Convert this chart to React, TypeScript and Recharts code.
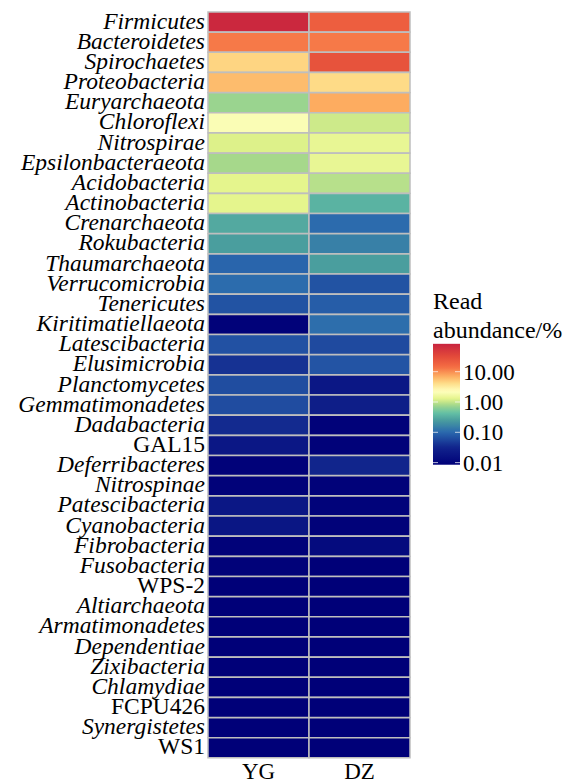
import React from 'react'
import { BarChart, Bar, XAxis, YAxis, Cell } from 'recharts'

// ── Data ──────────────────────────────────────────────────────────────────────

const PHYLA = [
  'Firmicutes', 'Bacteroidetes', 'Spirochaetes', 'Proteobacteria', 'Euryarchaeota',
  'Chloroflexi', 'Nitrospirae', 'Epsilonbacteraeota', 'Acidobacteria', 'Actinobacteria',
  'Crenarchaeota', 'Rokubacteria', 'Thaumarchaeota', 'Verrucomicrobia', 'Tenericutes',
  'Kiritimatiellaeota', 'Latescibacteria', 'Elusimicrobia', 'Planctomycetes', 'Gemmatimonadetes',
  'Dadabacteria', 'GAL15', 'Deferribacteres', 'Nitrospinae', 'Patescibacteria',
  'Cyanobacteria', 'Fibrobacteria', 'Fusobacteria', 'WPS-2', 'Altiarchaeota',
  'Armatimonadetes', 'Dependentiae', 'Zixibacteria', 'Chlamydiae', 'FCPU426',
  'Synergistetes', 'WS1',
]

// read abundance (%) per phylum
const YG = [
  75, 12.5, 4.5, 6, 0.72,
  2, 1.2, 0.8, 1.3, 1.3,
  0.3, 0.25, 0.095, 0.107, 0.07,
  0.009, 0.068, 0.04, 0.063, 0.062,
  0.035, 0.02, 0.009, 0.009, 0.02,
  0.019, 0.009, 0.009, 0.008, 0.008,
  0.008, 0.008, 0.008, 0.008, 0.008,
  0.008, 0.008,
]

const DZ = [
  20, 12.5, 26, 4.2, 7.2,
  1.07, 1.4, 1.4, 0.91, 0.35,
  0.105, 0.15, 0.25, 0.07, 0.083,
  0.11, 0.06, 0.071, 0.02, 0.025,
  0.009, 0.009, 0.032, 0.009, 0.0095,
  0.009, 0.0125, 0.008, 0.008, 0.008,
  0.008, 0.008, 0.008, 0.008, 0.008,
  0.008, 0.008,
]

const GROUPS = ['YG', 'DZ']
const LEGEND_TICKS = [10, 1, 0.1, 0.01]
const NON_ITALIC = ['GAL15', 'WPS-2', 'FCPU426', 'WS1']

// ── Colour scale (log10 of abundance) ────────────────────────────────────────

const LOG_MIN = -2.07
const LOG_MAX = 1.92

const STOPS: [number, string][] = [
  [-2.07, '#000078'],
  [-1.5, '#11248C'],
  [-1.0, '#2A68AE'],
  [-0.6, '#4A9E9E'],
  [-0.35, '#66C2A5'],
  [-0.1, '#A5D88B'],
  [0.1, '#E3F48A'],
  [0.35, '#FFFFBF'],
  [0.6, '#FEE08B'],
  [0.85, '#FDAE61'],
  [1.15, '#F46D43'],
  [1.5, '#E34A3A'],
  [1.92, '#C8243F'],
]

const hex = (c: string) => [1, 3, 5].map((i) => parseInt(c.slice(i, i + 2), 16))

function colorAt(t: number) {
  const v = Math.max(LOG_MIN, Math.min(LOG_MAX, t))
  for (let i = 0; i < STOPS.length - 1; i++) {
    const [a, ca] = STOPS[i]
    const [b, cb] = STOPS[i + 1]
    if (v >= a && v <= b) {
      const f = (v - a) / (b - a)
      const A = hex(ca)
      const B = hex(cb)
      const m = A.map((x, k) => Math.round(x + (B[k] - x) * f))
      return `rgb(${m[0]},${m[1]},${m[2]})`
    }
  }
  return STOPS[STOPS.length - 1][1]
}

const colorOf = (v: number) => colorAt(Math.log10(v))

const data = PHYLA.map((name, i) => ({ name, yg: YG[i], dz: DZ[i], w1: 1, w2: 1 }))

const FONT = "'Liberation Serif', 'Times New Roman', serif"

// ─────────────────────────────────────────────────────────────────────────────

function PhylumTick(props: any) {
  const { x, y, payload } = props
  const italic = !NON_ITALIC.includes(payload.value)
  return (
    <text
      x={x}
      y={y}
      dy={6.5}
      textAnchor="end"
      fontFamily={FONT}
      fontSize={23.5}
      fontStyle={italic ? 'italic' : 'normal'}
      fill="#000"
    >
      {payload.value}
    </text>
  )
}

function GroupTick(props: any) {
  const { x, y, payload } = props
  return (
    <text x={x} y={y} dy={13} textAnchor="middle" fontFamily={FONT} fontSize={23} fill="#000">
      {GROUPS[Math.floor(payload.value)]}
    </text>
  )
}

function ColorLegend() {
  const yOf = (v: number) => 402 - 30.3 * Math.log10(v)
  const top = yOf(Math.pow(10, LOG_MAX))
  const bottom = yOf(Math.pow(10, LOG_MIN))
  const steps = 40
  return (
    <svg width={571} height={783} style={{ position: 'absolute', left: 0, top: 0, pointerEvents: 'none' }}>
      <defs>
        <linearGradient id="abund" x1="0" y1="0" x2="0" y2="1">
          {Array.from({ length: steps + 1 }, (_, i) => {
            const t = LOG_MAX - ((LOG_MAX - LOG_MIN) * i) / steps
            return <stop key={i} offset={`${(i / steps) * 100}%`} stopColor={colorAt(t)} />
          })}
        </linearGradient>
      </defs>
      <text x={433} y={309} fontFamily={FONT} fontSize={24} fill="#000">Read</text>
      <text x={433} y={338} fontFamily={FONT} fontSize={24} fill="#000">abundance/%</text>
      <rect x={433} y={top} width={27} height={bottom - top} fill="url(#abund)" />
      {LEGEND_TICKS.map((v) => (
        <g key={v}>
          <line x1={433} x2={438} y1={yOf(v)} y2={yOf(v)} stroke="#fff" strokeOpacity={0.7} />
          <line x1={455} x2={460} y1={yOf(v)} y2={yOf(v)} stroke="#fff" strokeOpacity={0.7} />
          <text x={463} y={yOf(v)} dy={8} fontFamily={FONT} fontSize={23} fill="#000">
            {v.toFixed(2)}
          </text>
        </g>
      ))}
    </svg>
  )
}

export default function App() {
  return (
    <div style={{ position: 'absolute', left: 0, top: 0, width: 571, height: 783, background: '#fff' }}>
      <BarChart
        width={571}
        height={783}
        data={data}
        layout="vertical"
        margin={{ top: 12, right: 161, bottom: 0, left: 0 }}
        barCategoryGap={0}
        barGap={0}
      >
        <XAxis
          type="number"
          domain={[0, 2]}
          ticks={[0.5, 1.5]}
          tick={<GroupTick />}
          tickLine={false}
          axisLine={false}
          height={25}
          interval={0}
        />
        <YAxis
          type="category"
          dataKey="name"
          width={208}
          tick={<PhylumTick />}
          tickLine={false}
          axisLine={false}
          tickSize={0}
          tickMargin={3}
          interval={0}
        />
        <Bar dataKey="w1" stackId="a" isAnimationActive={false} stroke="#BEBEBE" strokeWidth={1.5}>
          {data.map((d, i) => (
            <Cell key={i} fill={colorOf(d.yg)} />
          ))}
        </Bar>
        <Bar dataKey="w2" stackId="a" isAnimationActive={false} stroke="#BEBEBE" strokeWidth={1.5}>
          {data.map((d, i) => (
            <Cell key={i} fill={colorOf(d.dz)} />
          ))}
        </Bar>
      </BarChart>
      <ColorLegend />
    </div>
  )
}
